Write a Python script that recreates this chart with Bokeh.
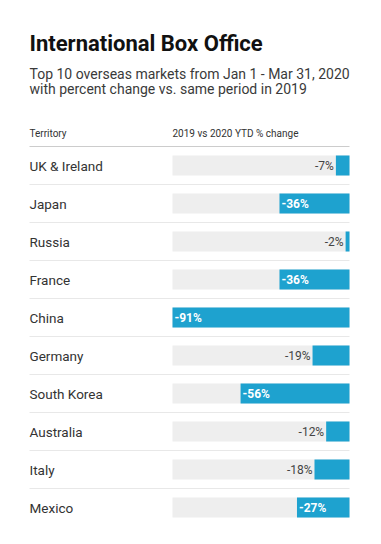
from bokeh.plotting import figure
from bokeh.models import Range1d, ColumnDataSource
from bokeh.embed import file_html
from bokeh.resources import INLINE
from bokeh.core.properties import value

territories = ["UK & Ireland", "Japan", "Russia", "France", "China",
               "Germany", "South Korea", "Australia", "Italy", "Mexico"]
changes = [-7, -36, -2, -36, -91, -19, -56, -12, -18, -27]
labels = [f"{v}%" for v in changes]

title_text = "International Box Office"
subtitle_lines = ["Top 10 overseas markets from Jan 1 - Mar 31, 2020",
                  "with percent change vs. same period in 2019"]
header_left = "Territory"
header_right = "2019 vs 2020 YTD % change"

W, H = 373, 536
FONT = value("Roboto")
BLUE = "#1ea2cf"

# layout constants (pixels within figure)
vmin = min(changes)
bar_left_px, bar_right_px = 172, 349
ppu = (bar_right_px - bar_left_px) / float(-vmin)
x_start = vmin - bar_left_px / ppu
x_end = (W - bar_right_px) / ppu
row_px = 38.0
top_px = 146.0
n = len(territories)
y_end = -0.5 - top_px / row_px
y_start = (H - top_px) / row_px - 0.5


def px_x(px):
    return x_start + px / ppu


def px_y(py):
    return (py - top_px) / row_px - 0.5


p = figure(width=W, height=H, output_backend="svg", toolbar_location=None,
           x_range=Range1d(x_start, x_end), y_range=Range1d(y_start, y_end),
           title=None, min_border=0)
p.axis.visible = False
p.grid.visible = False
p.outline_line_color = None
p.background_fill_color = "white"
p.border_fill_color = "white"

idx = list(range(n))
inside = [v <= -25 for v in changes]
src = ColumnDataSource(dict(
    y=idx, name=territories, v=changes,
    zero=[0] * n, full=[vmin] * n,
))
src_in = ColumnDataSource(dict(
    y=[i for i in idx if inside[i]],
    x=[changes[i] + 2 / ppu for i in idx if inside[i]],
    lab=[labels[i] for i in idx if inside[i]]))
src_out = ColumnDataSource(dict(
    y=[i for i in idx if not inside[i]],
    x=[changes[i] - 2 / ppu for i in idx if not inside[i]],
    lab=[labels[i] for i in idx if not inside[i]]))

left_x = px_x(29)

# separators
sep_y = [i + 0.5 for i in idx[:-1]]
p.segment(x0=[left_x] * len(sep_y), x1=[0] * len(sep_y), y0=sep_y, y1=sep_y,
          line_color="#e8e8e8", line_width=1)
p.segment(x0=[left_x], x1=[0], y0=[-0.5], y1=[-0.5], line_color="#cccccc", line_width=1)

bh = 20 / row_px
p.hbar(y="y", left="full", right="zero", height=bh, source=src,
       fill_color="#eeeeee", line_color=None)
p.hbar(y="y", left="v", right="zero", height=bh, source=src,
       fill_color=BLUE, line_color=None)

p.text(x=left_x, y="y", text="name", source=src, text_font=FONT,
       text_font_size="13.5px", text_color="#333333", text_baseline="middle",
       text_align="left")
p.text(x="x", y="y", text="lab", source=src_in, text_font=FONT,
       text_font_size="12px", text_font_style="bold", text_color="white",
       text_baseline="middle", text_align="left")
p.text(x="x", y="y", text="lab", source=src_out, text_font=FONT,
       text_font_size="12px", text_color="#444444",
       text_baseline="middle", text_align="right")


def lab(text, px, py, size, style="normal", color="#222222"):
    p.text(x=[px_x(px)], y=[px_y(py)], text=[text], text_font=FONT,
           text_font_size=size, text_font_style=style, text_color=color,
           text_baseline="alphabetic", text_align="left")


lab(title_text, 29, 43, "22px", "bold", "#111111")
lab(subtitle_lines[0], 29, 73.5, "14px", "normal", "#3a3a3a")
lab(subtitle_lines[1], 29, 88.5, "14px", "normal", "#3a3a3a")
lab(header_left, 29, 132.5, "10px", "normal", "#333333")
lab(header_right, bar_left_px, 132.5, "10px", "normal", "#333333")

open("out.html", "w").write(file_html(p, INLINE))
